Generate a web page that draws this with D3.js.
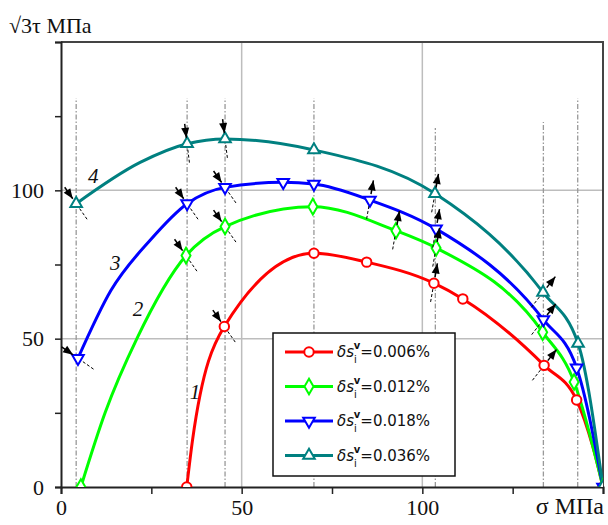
<!DOCTYPE html>
<html><head><meta charset="utf-8">
<script src="https://cdn.jsdelivr.net/npm/d3@7"></script>
<style>body{margin:0;background:#fff}svg{display:block}</style>
</head><body>
<svg id="c" width="608" height="525"></svg>
<script>
// ---------- data ----------
const xTickValues = [0, 25, 50, 75, 100, 125, 150];
const xTickLabels = ["0", "", "50", "", "100", "", ""];
const yTickValues = [0, 25, 50, 75, 100, 125, 150];
const yTickLabels = ["0", "", "50", "", "100", "", ""];
const xTitle = "σ МПа";
const yTitle = "√3τ МПа";

const seriesValues = ["0.006%", "0.012%", "0.018%", "0.036%"];
const seriesColors = ["#ff0000", "#00ff00", "#0000ff", "#008080"];
const seriesSymbols = ["circle", "diamond", "triangleDown", "triangleUp"];

// marker points
const sigma1 = [34.8, 45.2, 70.0, 84.6, 103.2, 111.2, 133.7, 142.7, 150];
const tau1   = [0.0, 54.1, 78.8, 75.8, 68.7, 63.4, 41.0, 29.3, 0];
const sigma2 = [5.5, 34.6, 45.4, 69.7, 92.7, 103.8, 133.3, 142.0, 150];
const tau2   = [0.0, 78.0, 87.8, 94.5, 86.4, 80.6, 52.2, 35.4, 0];
const sigma3 = [4.7, 34.9, 45.4, 61.5, 70.0, 85.5, 103.8, 133.5, 142.7, 150];
const tau3   = [43.4, 95.5, 101.0, 102.7, 102.1, 96.7, 87.0, 56.4, 40.2, 0];
const sigma4 = [4.2, 34.9, 45.4, 70.0, 103.5, 133.4, 143.1, 150];
const tau4   = [95.5, 115.7, 117.3, 113.6, 98.9, 65.6, 48.4, 0];

// extra points (no markers)
const trace1Sigma = [36.4, 147.2];
const trace1Tau   = [15.8, 13.5];
const trace2Sigma = [12.2, 21.0];
const trace2Tau   = [25.0, 50.0];
const trace3Sigma = [13.8, 24.6];
const trace3Tau   = [66.2, 83.1];
const trace4Sigma = [21.9];
const trace4Tau   = [109.4];

const sigmas = [sigma1, sigma2, sigma3, sigma4];
const taus = [tau1, tau2, tau3, tau4];
const traceSigmas = [trace1Sigma, trace2Sigma, trace3Sigma, trace4Sigma];
const traceTaus = [trace1Tau, trace2Tau, trace3Tau, trace4Tau];

// dash-dot reference lines (sigma position, top value)
const refLineX = [4.2, 34.9, 45.4, 70.0, 103.6, 133.5, 143.0];
const refLineTop = [131, 131, 131, 131, 121, 123, 131];

// curve number labels
const curveLabels = ["1", "2", "3", "4"];
const curveLabelX = [37.1, 21.3, 15.0, 8.9];
const curveLabelY = [32.0, 60.2, 75.7, 104.9];

// arrows: series index, point index, kind
const arrowSeries = [3, 2, 3, 3, 2, 2, 1, 1, 0, 2, 1, 3, 2, 1, 0, 3, 2, 0];
const arrowPoint  = [0, 0, 1, 2, 1, 2, 1, 2, 1, 5, 4, 4, 6, 5, 4, 5, 7, 6];
const arrowKind   = ["in","in","in","in","in","in","in","in","in","out","out","out","out","out","out","out","out","out"];

// ---------- layout ----------
const L = 61, R = 603, T = 42, B = 487;
const svg = d3.select("#c");
const x = d3.scaleLinear().domain([0, 150]).range([L, R]);
const y = d3.scaleLinear().domain([0, 150]).range([B, T]);
const serif = "'Liberation Serif','Times New Roman',serif";

svg.append("defs").append("clipPath").attr("id", "clip")
  .append("rect").attr("x", L).attr("y", T).attr("width", R - L).attr("height", B - T);

// grid
const grid = svg.append("g").attr("stroke", "#bdbdbd").attr("stroke-width", 1.5);
[50, 100].forEach(v => {
  grid.append("line").attr("x1", x(v)).attr("x2", x(v)).attr("y1", y(0)).attr("y2", y(150));
  grid.append("line").attr("x1", x(0)).attr("x2", x(150)).attr("y1", y(v)).attr("y2", y(v));
});

// dash-dot lines
svg.append("g").selectAll("line").data(refLineX).join("line")
  .attr("x1", d => x(d)).attr("x2", d => x(d))
  .attr("y1", y(0)).attr("y2", (d, i) => y(refLineTop[i]))
  .attr("stroke", "#999").attr("stroke-width", 1.3)
  .attr("stroke-dasharray", "5,2,1.5,2");

// frame top/right
svg.append("path").attr("d", `M${x(0)},${y(150)}H${x(150)}V${y(0)}`)
  .attr("fill", "none").attr("stroke", "#444").attr("stroke-width", 2);

// axes
const xAxis = d3.axisBottom(x).tickValues(xTickValues).tickSize(7).tickPadding(5)
  .tickFormat((d, i) => xTickLabels[i]);
const gx = svg.append("g").attr("transform", `translate(0,${B})`).call(xAxis);
const yAxis = d3.axisLeft(y).tickValues(yTickValues).tickSize(6).tickPadding(11)
  .tickFormat((d, i) => yTickLabels[i]);
const gy = svg.append("g").attr("transform", `translate(${L},0)`).call(yAxis);
[gx, gy].forEach(g => {
  g.select(".domain").attr("stroke", "#222").attr("stroke-width", 2);
  g.selectAll(".tick line").attr("stroke", "#222").attr("stroke-width", 1.5);
  g.selectAll(".tick text").attr("font-family", serif).attr("font-size", 22).attr("fill", "#111");
});
gx.selectAll(".tick text").attr("dy", "0.71em");

// titles
svg.append("text").attr("x", 9).attr("y", 33).attr("font-family", serif)
  .attr("font-size", 22).attr("fill", "#111").text(yTitle);
svg.append("text").attr("x", 604).attr("y", 514).attr("text-anchor", "end")
  .attr("font-family", serif).attr("font-size", 24).attr("fill", "#111").text(xTitle);

// symbols
function symbolPath(kind) {
  if (kind === "circle") return d3.symbol(d3.symbolCircle, 70)();
  if (kind === "diamond") return d3.symbol(d3.symbolDiamond, 70)();
  return d3.symbol(d3.symbolTriangle, 58)();
}
function symbolRot(kind) { return kind === "triangleDown" ? 180 : 0; }

// curves
const plot = svg.append("g").attr("clip-path", "url(#clip)");
const line = d3.line().x(d => x(d[0])).y(d => y(d[1])).curve(d3.curveMonotoneX);
sigmas.forEach((sx, s) => {
  const pts = sx.map((v, i) => [v, taus[s][i]])
    .concat(traceSigmas[s].map((v, i) => [v, traceTaus[s][i]]))
    .sort((a, b) => a[0] - b[0]);
  plot.append("path").datum(pts).attr("d", line)
    .attr("fill", "none").attr("stroke", seriesColors[s]).attr("stroke-width", 3);
});
sigmas.forEach((sx, s) => {
  const pts = sx.map((v, i) => [v, taus[s][i]]);
  plot.append("g").selectAll("path").data(pts).join("path")
    .attr("d", symbolPath(seriesSymbols[s]))
    .attr("transform", d => `translate(${x(d[0])},${y(d[1])}) rotate(${symbolRot(seriesSymbols[s])})`)
    .attr("fill", "#fff").attr("stroke", seriesColors[s]).attr("stroke-width", 2);
});

// arrows
const ag = svg.append("g");
arrowSeries.forEach((s, k) => {
  const p = arrowPoint[k];
  const mx = x(sigmas[s][p]), my = y(taus[s][p]);
  const inward = arrowKind[k] === "in";
  const ang = inward ? (s === 3 && p > 0 ? -97 : (s === 2 && p === 0 ? -145 : -125))
                     : (p >= 5 && sigmas[s][p] > 120 ? -52 : -80);
  const a = ang * Math.PI / 180;
  const ux = Math.cos(a), uy = Math.sin(a);
  const len = 20;
  const ox = mx + ux * len, oy = my + uy * len;
  const nx = mx + ux * 6, ny = my + uy * 6;
  ag.append("line").attr("x1", ox).attr("y1", oy).attr("x2", nx).attr("y2", ny)
    .attr("stroke", "#000").attr("stroke-width", 1.5);
  let tipX, tipY, dx, dy;
  if (inward) { tipX = nx; tipY = ny; dx = -ux; dy = -uy; }
  else { tipX = ox; tipY = oy; dx = ux; dy = uy; }
  const bx = tipX - dx * 10, by = tipY - dy * 10;
  ag.append("path")
    .attr("d", `M${tipX},${tipY}L${bx - dy * 4},${by + dx * 4}L${bx + dy * 4},${by - dx * 4}Z`)
    .attr("fill", "#000");
  ag.append("line").attr("x1", mx - ux * 6).attr("y1", my - uy * 6)
    .attr("x2", mx - ux * 19).attr("y2", my - uy * 19)
    .attr("stroke", "#000").attr("stroke-width", 1).attr("stroke-dasharray", "3,2");
});

// curve labels
svg.append("g").selectAll("text").data(curveLabels).join("text")
  .attr("x", (d, i) => x(curveLabelX[i])).attr("y", (d, i) => y(curveLabelY[i]))
  .attr("dy", "0.35em").attr("text-anchor", "middle")
  .attr("font-family", serif).attr("font-style", "italic").attr("font-size", 21)
  .attr("fill", "#111").text(d => d);

// legend
const lg = svg.append("g");
lg.append("rect").attr("x", 273).attr("y", 333).attr("width", 182).attr("height", 143)
  .attr("fill", "#fff").attr("stroke", "#111").attr("stroke-width", 1.5);
seriesValues.forEach((v, i) => {
  const ry = 352 + i * 34.5;
  lg.append("line").attr("x1", 285).attr("x2", 333).attr("y1", ry).attr("y2", ry)
    .attr("stroke", seriesColors[i]).attr("stroke-width", 3);
  lg.append("path").attr("d", symbolPath(seriesSymbols[i]))
    .attr("transform", `translate(309,${ry}) rotate(${symbolRot(seriesSymbols[i])})`)
    .attr("fill", "#fff").attr("stroke", seriesColors[i]).attr("stroke-width", 2);
  const t = lg.append("text").attr("x", 337).attr("y", ry + 5)
    .attr("font-family", "'DejaVu Sans',sans-serif").attr("font-size", 15).attr("fill", "#111");
  t.append("tspan").attr("font-style", "italic").text("δs");
  t.append("tspan").attr("font-size", 10).attr("dy", 6).text("i");
  t.append("tspan").attr("font-size", 10).attr("font-weight", "bold").attr("dx", -3).attr("dy", -14).text("v");
  t.append("tspan").attr("dy", 8).text("=" + v);
});
</script>
</body></html>
